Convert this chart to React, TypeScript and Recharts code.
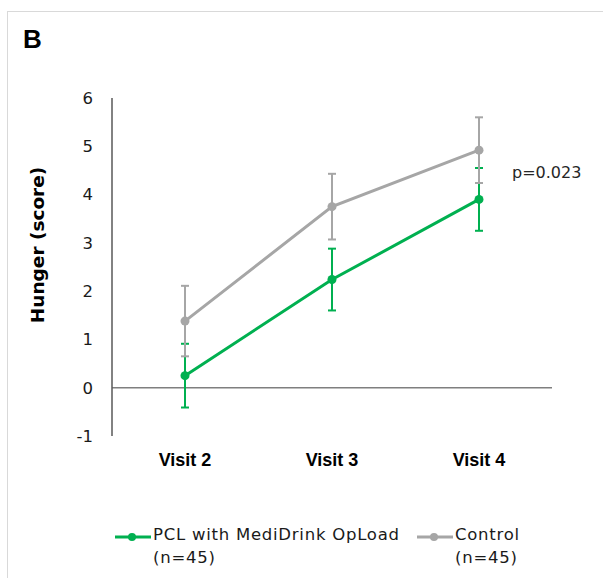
import React from "react";
import {
  LineChart,
  Line,
  XAxis,
  YAxis,
  ErrorBar,
  ReferenceLine,
  Legend,
} from "recharts";

const visits = ["Visit 2", "Visit 3", "Visit 4"];
const pclMean = [0.25, 2.24, 3.9];
const pclErr = [0.66, 0.64, 0.65];
const controlMean = [1.38, 3.75, 4.92];
const controlErr = [0.73, 0.68, 0.68];
const yTicks = [-1, 0, 1, 2, 3, 4, 5, 6];

const GREEN = "#00b050";
const GRAY = "#a6a6a6";

const data = visits.map((visit, i) => ({
  visit,
  pcl: pclMean[i],
  pclErr: pclErr[i],
  control: controlMean[i],
  controlErr: controlErr[i],
}));

const legendItems = [
  { name: "PCL with MediDrink OpLoad", sub: "(n=45)", color: GREEN, left: 115 },
  { name: "Control", sub: "(n=45)", color: GRAY, left: 417 },
];

function LegendContent() {
  return (
    <div style={{ position: "relative", width: 603, height: 50 }}>
      {legendItems.map((item) => (
        <div
          key={item.name}
          style={{ position: "absolute", left: item.left, top: 0 }}
        >
          <svg
            width={36}
            height={12}
            style={{ position: "absolute", left: 0, top: 8 }}
          >
            <line x1={0} y1={6} x2={36} y2={6} stroke={item.color} strokeWidth={3} />
            <circle cx={17} cy={6} r={4} fill={item.color} />
          </svg>
          <div
            style={{
              position: "absolute",
              left: 38,
              top: 0,
              whiteSpace: "nowrap",
              fontFamily: "DejaVu Sans",
              fontSize: 16.5,
              lineHeight: "23px",
              letterSpacing: 0.75,
              color: "#1a1a1a",
            }}
          >
            {item.name}
            <br />
            {item.sub}
          </div>
        </div>
      ))}
    </div>
  );
}

export default function App() {
  return (
    <div
      style={{
        position: "absolute",
        left: 0,
        top: 0,
        width: 603,
        height: 578,
        background: "#fff",
        overflow: "hidden",
      }}
    >
      <div
        style={{
          position: "absolute",
          left: 7,
          top: 11,
          width: 620,
          height: 600,
          borderTop: "1.5px solid #d9d9d9",
          borderLeft: "1.5px solid #d9d9d9",
        }}
      />
      <div
        style={{
          position: "absolute",
          left: 23,
          top: 26,
          fontFamily: "Liberation Sans",
          fontWeight: 700,
          fontSize: 26,
          lineHeight: "26px",
          color: "#000",
        }}
      >
        B
      </div>
      <div
        style={{
          position: "absolute",
          left: 37,
          top: 245,
          transform: "translate(-50%, -50%) rotate(-90deg)",
          whiteSpace: "nowrap",
          fontFamily: "DejaVu Sans",
          fontWeight: 700,
          fontSize: 18.5,
          lineHeight: "19px",
          color: "#000",
        }}
      >
        Hunger (score)
      </div>
      <div
        style={{
          position: "absolute",
          left: 512,
          top: 165,
          fontFamily: "DejaVu Sans",
          fontSize: 16,
          lineHeight: "16px",
          color: "#262626",
        }}
      >
        p=0.023
      </div>
      <div style={{ position: "absolute", left: 0, top: 0 }}>
        <LineChart
          width={603}
          height={578}
          data={data}
          margin={{ top: 98, right: 51, bottom: 52, left: 52 }}
        >
          <XAxis
            dataKey="visit"
            axisLine={false}
            tickLine={false}
            tickSize={0}
            tickMargin={17}
            height={40}
            padding={{ left: 73, right: 73 }}
            tick={{
              fill: "#000",
              fontSize: 18,
              fontWeight: 700,
              fontFamily: "Liberation Sans",
            }}
          />
          <YAxis
            type="number"
            domain={[-1, 6]}
            ticks={yTicks}
            width={60}
            axisLine={{ stroke: "#595959", strokeWidth: 1.5 }}
            tickLine={false}
            tickSize={0}
            tickMargin={19}
            interval={0}
            tick={{ fill: "#1a1a1a", fontSize: 16.5, fontFamily: "DejaVu Sans" }}
          />
          <ReferenceLine y={0} stroke="#7f7f7f" strokeWidth={1.5} />
          <Line
            dataKey="pcl"
            name="PCL with MediDrink OpLoad"
            stroke={GREEN}
            strokeWidth={3}
            dot={{ r: 4.5, fill: GREEN, stroke: GREEN, strokeWidth: 0 }}
            activeDot={false}
            isAnimationActive={false}
          >
            <ErrorBar
              dataKey="pclErr"
              direction="y"
              width={4}
              stroke={GREEN}
              strokeWidth={2}
              isAnimationActive={false}
            />
          </Line>
          <Line
            dataKey="control"
            name="Control"
            stroke={GRAY}
            strokeWidth={3}
            dot={{ r: 4.5, fill: GRAY, stroke: GRAY, strokeWidth: 0 }}
            activeDot={false}
            isAnimationActive={false}
          >
            <ErrorBar
              dataKey="controlErr"
              direction="y"
              width={4}
              stroke={GRAY}
              strokeWidth={2}
              isAnimationActive={false}
            />
          </Line>
          <Legend
            content={() => <LegendContent />}
            wrapperStyle={{ position: "absolute", left: 0, top: 523, width: 603 }}
          />
        </LineChart>
      </div>
    </div>
  );
}
